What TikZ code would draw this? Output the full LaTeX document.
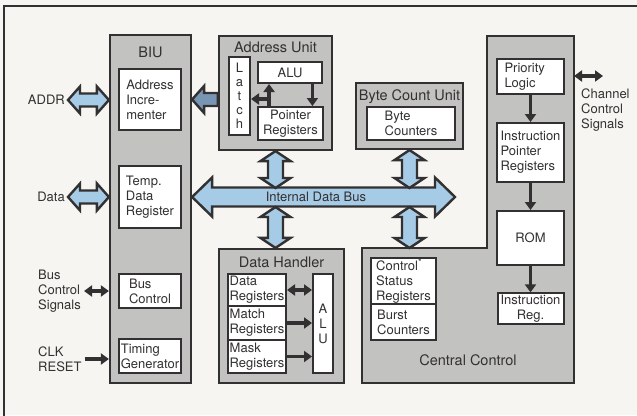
\documentclass[tikz,border=0pt]{standalone}
\usepackage{fontspec}
\setmainfont{TeX Gyre Heros}
\usepackage{xcolor}
\usepackage{tikz}
\usetikzlibrary{arrows.meta,calc}

\definecolor{ink}{RGB}{50,48,48}
\definecolor{paper}{RGB}{246,245,241}
\definecolor{unitgray}{RGB}{194,194,192}
\definecolor{busblue}{RGB}{166,203,230}
\definecolor{steel}{RGB}{120,150,180}

% block arrows: {from}{to}{half shaft}{half head}{head length}{style}
\newcommand{\hdbl}[6]{%
  \path[#6] let \p1=(#1), \p2=(#2) in
    (\x1,\y1) -- (\x1+#5pt,\y1+#4pt) -- (\x1+#5pt,\y1+#3pt) -- (\x2-#5pt,\y1+#3pt)
    -- (\x2-#5pt,\y1+#4pt) -- (\x2,\y1) -- (\x2-#5pt,\y1-#4pt) -- (\x2-#5pt,\y1-#3pt)
    -- (\x1+#5pt,\y1-#3pt) -- (\x1+#5pt,\y1-#4pt) -- cycle;}
\newcommand{\vdbl}[6]{%
  \path[#6] let \p1=(#1), \p2=(#2) in
    (\x1,\y1) -- (\x1+#4pt,\y1-#5pt) -- (\x1+#3pt,\y1-#5pt) -- (\x1+#3pt,\y2+#5pt)
    -- (\x1+#4pt,\y2+#5pt) -- (\x1,\y2) -- (\x1-#4pt,\y2+#5pt) -- (\x1-#3pt,\y2+#5pt)
    -- (\x1-#3pt,\y1-#5pt) -- (\x1-#4pt,\y1-#5pt) -- cycle;}
\newcommand{\hone}[6]{%
  \path[#6] let \p1=(#1), \p2=(#2) in
    (\x1,\y1) -- (\x1+#5pt,\y1+#4pt) -- (\x1+#5pt,\y1+#3pt) -- (\x2,\y1+#3pt)
    -- (\x2,\y1-#3pt) -- (\x1+#5pt,\y1-#3pt) -- (\x1+#5pt,\y1-#4pt) -- cycle;}

\begin{document}
\begin{tikzpicture}[x=1pt, y=-1pt,
    font=\fontsize{13}{15}\selectfont,
    unitbox/.style={rectangle, draw=ink, line width=2.2pt, fill=unitgray},
    blk/.style={rectangle, draw=ink, line width=2pt, fill=white, text=ink, align=left, inner sep=1.5pt},
    title/.style={font=\fontsize{14.5}{17}\selectfont, text=ink, anchor=base, inner sep=0pt},
    lbl/.style={text=ink, align=left, inner sep=3pt},
    sig/.style={draw=ink, line width=3.5pt, -{Triangle[length=8pt,width=11pt]}},
    sigboth/.style={draw=ink, line width=3.5pt, {Triangle[length=8pt,width=11pt]}-{Triangle[length=8pt,width=11pt]}},
    bigarrow/.style={draw=ink, line width=2.4pt, fill=busblue, line join=miter},
    latcharrow/.style={draw=ink, line width=2.4pt, fill=steel, line join=miter}
]
    \useasboundingbox (0,0) rectangle (637,415);
    \clip (0,0) rectangle (637,415);
    \fill[paper] (0,0) rectangle (637,415);
    \draw[ink, line width=1.6pt] (4,6) rectangle (660,440);

    % Units
    \node[unitbox, minimum width=81pt, minimum height=348pt] (biu) at (150.5,209) {};
    \node[unitbox, minimum width=113pt, minimum height=114pt] (au) at (275.5,93) {};
    \node[unitbox, minimum width=107pt, minimum height=66pt] (bcu) at (409.5,116) {};
    \node[unitbox, minimum width=125pt, minimum height=134pt] (dh) at (281.5,316) {};
    \coordinate (cc top) at (409,248);
    \coordinate (cc ne) at (574,36);
    \draw[unitbox] (362,248) -- (487,248) -- (487,36) -- (cc ne) -- (574,383) -- (362,383) -- cycle;

    \node[title] (biu t) at (150.5,57) {BIU};
    \node[title] (au t) at (275.5,52) {Address Unit};
    \node[title] (bcu t) at (409.5,100) {Byte Count Unit};
    \node[title] (dh t) at (281.5,267) {Data Handler};
    \node[title] (cc t) at (468,365) {Central Control};

    % BIU
    \node[blk, minimum width=62pt, minimum height=61pt] (ainc) at (150,99.5) {Address\\Incre-\\menter};
    \node[blk, minimum width=62pt, minimum height=62pt] (tdr) at (150,197) {Temp.\\Data\\Register};
    \node[blk, minimum width=62pt, minimum height=34pt] (bctl) at (150,291) {Bus\\Control};
    \node[blk, minimum width=62pt, minimum height=34pt] (tgen) at (150,356) {Timing\\Generator};

    % Address Unit
    \node[blk, align=center, minimum width=21pt, minimum height=78pt, font=\fontsize{13}{14}\selectfont] (latch) at (239.5,96) {L\\a\\t\\c\\h};
    \node[blk, align=center, minimum width=64pt, minimum height=21pt] (alu) at (290,72.5) {ALU};
    \node[blk, align=center, minimum width=65pt, minimum height=33pt] (pr) at (290.5,123.5) {Pointer\\Registers};

    % Byte Count Unit
    \node[blk, minimum width=88pt, minimum height=33pt] (bc) at (411,123.5) {Byte\\Counters};

    % Data Handler
    \node[blk, minimum width=58pt, minimum height=32pt] (dreg) at (257,290) {Data\\Registers};
    \node[blk, minimum width=58pt, minimum height=34pt] (mreg) at (257,323) {Match\\Registers};
    \node[blk, minimum width=58pt, minimum height=33pt] (kreg) at (257,356.5) {Mask\\Registers};
    \node[blk, align=center, minimum width=20pt, minimum height=99pt] (dalu) at (323,323.5) {A\\L\\U};

    % Central Control
    \node[blk, minimum width=65pt, minimum height=46pt] (csr) at (403.5,281) {Control\textsuperscript{*}\\Status\\Registers};
    \node[blk, minimum width=65pt, minimum height=36pt] (burst) at (403.5,322) {Burst\\Counters};
    \node[blk, text width=52pt, minimum width=67pt, minimum height=35pt] (prio) at (530.5,76.5) {Priority\\Logic};
    \node[blk, minimum width=67pt, minimum height=59pt] (ipr) at (530.5,152.5) {Instruction\\Pointer\\Registers};
    \node[blk, align=center, minimum width=67pt, minimum height=54pt] (rom) at (530.5,238) {ROM};
    \node[blk, align=center, minimum width=66pt, minimum height=25pt] (ireg) at (530.5,308.5) {Instruction\\Reg.};

    % Outside signals
    \node[lbl, anchor=east] (addr) at (68,100) {ADDR};
    \node[lbl, anchor=east] (data) at (68,197) {Data};
    \node[lbl, anchor=west] (bcsig) at (35,291) {Bus\\Control\\Signals};
    \node[lbl, anchor=west] (clk) at (35,359) {CLK\\RESET};
    \coordinate (chan) at (603,76);
    \node[lbl, anchor=north west] (chsig) at (578,86) {Channel\\Control\\Signals};

    % Bus
    \coordinate (bus e) at (455,197);
    \coordinate (bus n) at (409,188);
    \coordinate (bus s) at (409,207);

    % Block arrows
    \hdbl{addr.east}{addr.east -| biu.west}{6.5}{13.5}{12}{bigarrow}
    \hdbl{data.east}{data.east -| biu.west}{6.5}{13.5}{12}{bigarrow}
    \hone{biu.east |- ainc}{au.west |- ainc}{6.5}{13.5}{12}{latcharrow}
    \hdbl{biu.east |- tdr}{bus e}{9.5}{19.5}{20}{bigarrow}
    \vdbl{au.south}{au.south |- bus n}{7.5}{15}{10}{bigarrow}
    \vdbl{au.south |- bus s}{au.south |- dh.north}{7.5}{15}{10}{bigarrow}
    \vdbl{bcu.south}{bcu.south |- bus n}{7.5}{15}{10}{bigarrow}
    \vdbl{bcu.south |- bus s}{bcu.south |- cc top}{7.5}{15}{10}{bigarrow}
    \node[text=ink] (busname) at (316,197) {Internal Data Bus};

    % Signal arrows
    \draw[sigboth] (bcsig.east) -- (bcsig.east -| biu.west);
    \draw[sig] (clk.east) -- (clk.east -| biu.west);
    \draw[sigboth] (cc ne |- chan) -- (chan);

    \coordinate (pr up) at ($(pr.north west)!0.18!(pr.north east)$);
    \coordinate (pr tee) at ($(pr up)+(0,-7)$);
    \coordinate (alu dn) at ($(alu.south west)!0.84!(alu.south east)$);
    \draw[sig] (pr up) -- (pr up |- alu.south);
    \draw[sig] (pr tee) -- (pr tee -| latch.east);
    \draw[sig] (alu dn) -- (alu dn |- pr.north);

    \draw[sigboth] (dreg.east) -- (dreg.east -| dalu.west);
    \draw[sig] (mreg.east) -- (mreg.east -| dalu.west);
    \draw[sig] (kreg.east) -- (kreg.east -| dalu.west);

    \draw[sig] (prio) -- (ipr);
    \draw[sig] (ipr) -- (rom);
    \draw[sig] (rom.south) -- (rom.south |- ireg.north);
\end{tikzpicture}
\end{document}
